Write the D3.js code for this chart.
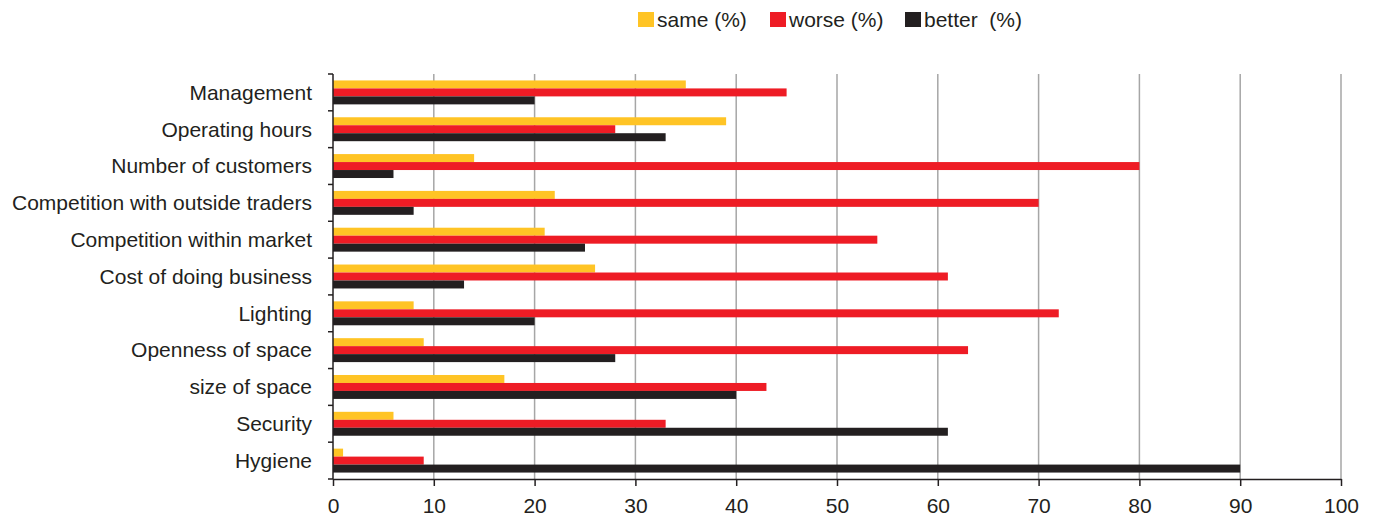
<!DOCTYPE html>
<html lang="en">
<head>
<meta charset="UTF-8" />
<title>Market conditions</title>
<script src="https://d3js.org/d3.v7.min.js"></script>
<style>
  body { margin: 0; background: #fff; }
  svg text { font-family: "Liberation Sans", Arial, sans-serif; fill: #231f20; }
</style>
</head>
<body>
<div id="chart"></div>
<script>
const categories = ["Management", "Operating hours", "Number of customers",
  "Competition with outside traders", "Competition within market",
  "Cost of doing business", "Lighting", "Openness of space",
  "size of space", "Security", "Hygiene"];
const seriesNames = ["same (%)", "worse (%)", "better  (%)"];
const same = [35, 39, 14, 22, 21, 26, 8, 9, 17, 6, 1];
const worse = [45, 28, 80, 70, 54, 61, 72, 63, 43, 33, 9];
const better = [20, 33, 6, 8, 25, 13, 20, 28, 40, 61, 90];
const xTicks = [0, 10, 20, 30, 40, 50, 60, 70, 80, 90, 100];
const colors = ["#ffc425", "#ee1c25", "#231f20"];

const width = 1373, height = 518;
const margin = { top: 74, right: 32, bottom: 39, left: 333 };
const fontSize = 21;

const svg = d3.select("#chart").append("svg")
  .attr("width", width).attr("height", height);

const x = d3.scaleLinear().domain([0, 100]).range([margin.left, width - margin.right]);
const y = d3.scaleBand().domain(categories)
  .range([margin.top, height - margin.bottom])
  .paddingInner(0.35).paddingOuter(0.175);
const ySub = d3.scaleBand().domain([0, 1, 2]).range([0, y.bandwidth()]);

// grid lines
svg.append("g").selectAll("line")
  .data(xTicks.slice(1))
  .join("line")
    .attr("x1", d => x(d)).attr("x2", d => x(d))
    .attr("y1", margin.top).attr("y2", height - margin.bottom)
    .attr("stroke", "#a6a6a6").attr("stroke-width", 1.5);

// bars
const data = categories.map((c, i) => ({ c, v: [same[i], worse[i], better[i]] }));
const groups = svg.append("g").selectAll("g")
  .data(data)
  .join("g")
    .attr("transform", d => `translate(0,${y(d.c)})`);
groups.selectAll("rect")
  .data(d => d.v.map((v, k) => ({ v, k })))
  .join("rect")
    .attr("x", x(0))
    .attr("y", d => ySub(d.k))
    .attr("width", d => x(d.v) - x(0))
    .attr("height", ySub.bandwidth())
    .attr("fill", d => colors[d.k]);

// y axis with ticks at band boundaries
const yAxis = svg.append("g");
yAxis.append("line")
  .attr("x1", margin.left).attr("x2", margin.left)
  .attr("y1", margin.top).attr("y2", height - margin.bottom)
  .attr("stroke", "#231f20").attr("stroke-width", 1.5);
const step = y.step();
yAxis.selectAll(".tk")
  .data(d3.range(categories.length + 1))
  .join("line")
    .attr("x1", margin.left - 5).attr("x2", margin.left)
    .attr("y1", i => margin.top + i * step).attr("y2", i => margin.top + i * step)
    .attr("stroke", "#231f20").attr("stroke-width", 1.5);
yAxis.selectAll("text")
  .data(categories)
  .join("text")
    .attr("x", 312)
    .attr("y", d => y(d) + y.bandwidth() / 2)
    .attr("dy", "0.35em")
    .attr("text-anchor", "end")
    .attr("font-size", fontSize)
    .text(d => d);

// x axis
svg.append("g")
  .attr("transform", `translate(0,${height - margin.bottom})`)
  .call(d3.axisBottom(x).tickValues(xTicks).tickSize(7).tickSizeOuter(0).tickPadding(12))
  .call(g => g.select(".domain").attr("stroke", "#231f20").attr("stroke-width", 1.5))
  .call(g => g.selectAll(".tick line").attr("stroke", "#231f20").attr("stroke-width", 1.5))
  .call(g => g.selectAll(".tick text").attr("font-size", fontSize).attr("fill", "#231f20")
    .style("font-family", "'Liberation Sans', Arial, sans-serif"));

// legend
const legendX = [638, 770, 905];
const legend = svg.append("g").selectAll("g")
  .data(seriesNames)
  .join("g")
    .attr("transform", (d, i) => `translate(${legendX[i]},12)`);
legend.append("rect")
  .attr("width", 16).attr("height", 15)
  .attr("fill", (d, i) => colors[i]);
legend.append("text")
  .attr("x", 19).attr("y", 7.5).attr("dy", "0.35em")
  .attr("font-size", fontSize)
  .style("white-space", "pre")
  .text(d => d);
</script>
</body>
</html>
